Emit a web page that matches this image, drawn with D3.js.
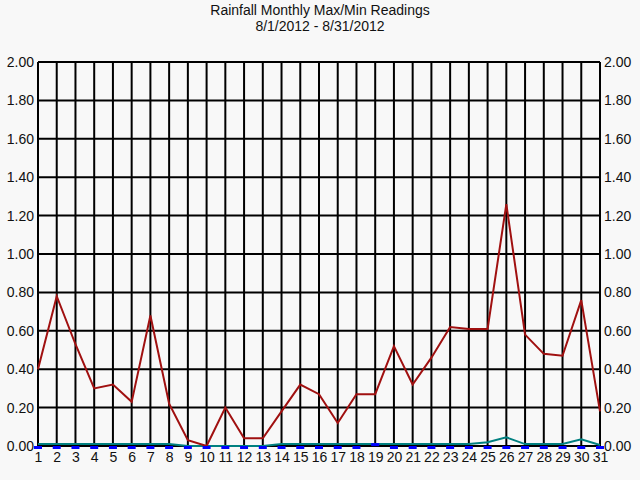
<!DOCTYPE html>
<html>
<head>
<meta charset="utf-8">
<script src="https://cdn.jsdelivr.net/npm/d3@7"></script>
<style>
body { margin: 0; background: #f8f8f8; }
text { font-family: "Liberation Sans", Arial, sans-serif; fill: #111; }
</style>
</head>
<body>
<script>
// chart data
var days = d3.range(1, 32);
var maxVals = [0.40, 0.78, 0.53, 0.30, 0.32, 0.23, 0.68, 0.22, 0.03, 0.00,
               0.20, 0.04, 0.04, 0.18, 0.32, 0.27, 0.12, 0.27, 0.27, 0.52,
               0.32, 0.46, 0.62, 0.61, 0.61, 1.26, 0.58, 0.48, 0.47, 0.76, 0.18];
var avgVals = [0.01, 0.01, 0.01, 0.01, 0.01, 0.01, 0.01, 0.01, 0.00, 0.00,
               0.00, 0.00, 0.00, 0.01, 0.01, 0.01, 0.01, 0.01, 0.01, 0.01,
               0.01, 0.01, 0.01, 0.01, 0.02, 0.045, 0.01, 0.01, 0.01, 0.035, 0.005];
var minVals = [0, 0, 0, 0, 0, 0, 0, 0, 0, 0,
               0, 0, 0, 0, 0, 0, 0, 0, 0.015, 0,
               0, 0, 0, 0, 0, 0, 0, 0, 0, 0, 0];
var yTicks = [0, 0.2, 0.4, 0.6, 0.8, 1.0, 1.2, 1.4, 1.6, 1.8, 2.0];

var w = 640, h = 480;

var svg = d3.select("body")
    .append("svg")
    .attr("width", w)
    .attr("height", h);

svg.append("rect")
    .attr("width", w)
    .attr("height", h)
    .attr("fill", "#f8f8f8");

var x = d3.scaleLinear().domain([1, 31]).range([38, 600]);
var y = d3.scaleLinear().domain([0, 2]).range([446, 62]);

// titles
svg.append("text")
    .attr("x", 320).attr("y", 15)
    .attr("text-anchor", "middle")
    .style("font-size", "14px")
    .text("Rainfall Monthly Max/Min Readings");
svg.append("text")
    .attr("x", 320).attr("y", 31)
    .attr("text-anchor", "middle")
    .style("font-size", "14px")
    .text("8/1/2012 - 8/31/2012");

// grid
var grid = svg.append("g")
    .attr("stroke", "#000")
    .attr("stroke-width", 2);

grid.selectAll(".vline")
    .data(days)
    .enter()
    .append("line")
    .attr("class", "vline")
    .attr("x1", function(d){ return x(d); })
    .attr("x2", function(d){ return x(d); })
    .attr("y1", y(2))
    .attr("y2", y(0));

grid.selectAll(".hline")
    .data(yTicks)
    .enter()
    .append("line")
    .attr("class", "hline")
    .attr("x1", x(1))
    .attr("x2", x(31))
    .attr("y1", function(d){ return y(d); })
    .attr("y2", function(d){ return y(d); });

// axes
var leftAxis = d3.axisLeft(y).tickValues(yTicks).tickFormat(d3.format(".2f")).tickSize(0).tickPadding(4);
var rightAxis = d3.axisRight(y).tickValues(yTicks).tickFormat(d3.format(".2f")).tickSize(0).tickPadding(4);
var bottomAxis = d3.axisBottom(x).tickValues(days).tickFormat(d3.format("d")).tickSize(0).tickPadding(6);

[svg.append("g").attr("transform", "translate(" + x(1) + ",0)").call(leftAxis),
 svg.append("g").attr("transform", "translate(" + x(31) + ",0)").call(rightAxis),
 svg.append("g").attr("transform", "translate(0," + y(0) + ")").call(bottomAxis)
].forEach(function(g){
    g.select(".domain").remove();
    g.selectAll("text").style("font-size", "14px").attr("fill", "#111")
        .style("font-family", "Liberation Sans, Arial, sans-serif");
});

// series
var line = d3.line()
    .x(function(d, i){ return x(days[i]); })
    .y(function(d){ return y(d); });

svg.append("path")
    .datum(avgVals)
    .attr("d", line)
    .attr("fill", "none")
    .attr("stroke", "#008080")
    .attr("stroke-width", 2);

svg.append("path")
    .datum(maxVals)
    .attr("d", line)
    .attr("fill", "none")
    .attr("stroke", "#a01010")
    .attr("stroke-width", 2);

svg.selectAll(".minMark")
    .data(minVals)
    .enter()
    .append("rect")
    .attr("class", "minMark")
    .attr("x", function(d, i){ return x(days[i]) - 4; })
    .attr("y", function(d){ return y(d); })
    .attr("width", 8)
    .attr("height", 3)
    .attr("fill", "#0000ff");
</script>
</body>
</html>
